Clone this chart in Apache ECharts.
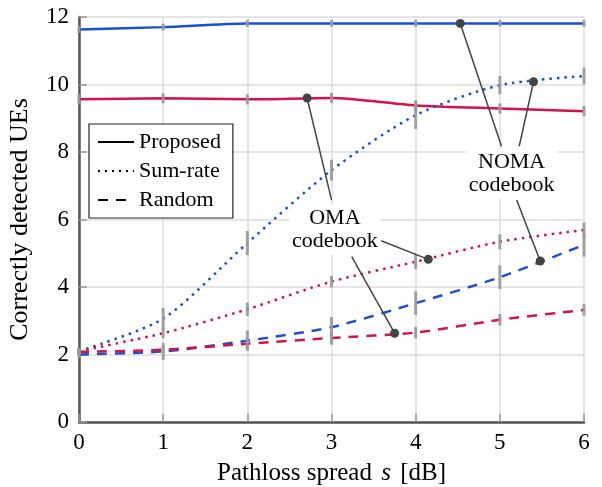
<!DOCTYPE html>
<html><head><meta charset="utf-8">
<script src="https://cdn.jsdelivr.net/npm/echarts@6/dist/echarts.min.js"></script>
<style>html,body{margin:0;padding:0;background:#fff}#c{width:602px;height:487px}</style>
</head><body><div id="c"></div>
<script>
// ---- data ----
var spread = [0, 1, 2, 3, 4, 5, 6];
var proposedNOMA = [11.63, 11.70, 11.81, 11.81, 11.81, 11.81, 11.81];
var proposedOMA  = [9.56, 9.59, 9.56, 9.60, 9.38, 9.29, 9.21];
var sumrateNOMA  = [2.10, 3.06, 5.30, 7.46, 9.09, 9.98, 10.25];
var sumrateOMA   = [2.10, 2.63, 3.34, 4.16, 4.75, 5.34, 5.69];
var randomNOMA   = [2.00, 2.09, 2.41, 2.81, 3.52, 4.29, 5.25];
var randomOMA    = [2.08, 2.14, 2.32, 2.49, 2.65, 3.03, 3.32];
// error bar half-lengths
var errProposedNOMA = [0.10, 0.10, 0.10, 0.10, 0.10, 0.10, 0.10];
var errProposedOMA  = [0.15, 0.15, 0.15, 0.15, 0.15, 0.15, 0.15];
var errSumrateNOMA  = [0.10, 0.32, 0.36, 0.31, 0.41, 0.27, 0.25];
var errSumrateOMA   = [0.10, 0.15, 0.20, 0.17, 0.22, 0.22, 0.22];
var errRandomNOMA   = [0.10, 0.25, 0.30, 0.30, 0.35, 0.35, 0.35];
var errRandomOMA    = [0.10, 0.10, 0.15, 0.20, 0.17, 0.17, 0.17];
var legendNames = ['Proposed', 'Sum-rate', 'Random'];
// annotation leaders: [fromX, fromY, dotX, dotY]
var omaLeaders  = [[3.00, 6.58, 2.71, 9.60], [3.59, 5.37, 4.15, 4.82], [3.24, 4.90, 3.75, 2.63]];
var nomaLeaders = [[5.02, 8.17, 4.53, 11.81], [5.23, 8.17, 5.40, 10.08], [5.20, 6.58, 5.48, 4.77]];
var annotLabels = [[3.04, 5.70, 'OMA\ncodebook'], [5.14, 7.35, 'NOMA\ncodebook']];

var BLUE = '#1a50d6', RED = '#d6124a';
var FONT = 'Liberation Serif';
var DOT = [2.5, 5], DASH = [10, 8];

function pairs(ys) { return spread.map(function (x, i) { return [x, ys[i]]; }); }
function errs(ys, es) { return spread.map(function (x, i) { return [x, ys[i], es[i]]; }); }

function lineSeries(name, ys, color, type) {
  return { name: name, type: 'line', data: pairs(ys), symbol: 'none', smooth: 0.25,
    lineStyle: { color: color, width: 2.5, type: type }, itemStyle: { color: color }, z: 3 };
}
function dummy(name, type) {
  return { name: name, type: 'line', data: [], symbol: 'none', showSymbol: false,
    lineStyle: { color: '#000', width: 2.5, type: type }, itemStyle: { color: '#000', opacity: 0 } };
}

var errData = [].concat(
  errs(proposedNOMA, errProposedNOMA), errs(proposedOMA, errProposedOMA),
  errs(sumrateNOMA, errSumrateNOMA), errs(sumrateOMA, errSumrateOMA),
  errs(randomNOMA, errRandomNOMA), errs(randomOMA, errRandomOMA));

var chart = echarts.init(document.getElementById('c'));
chart.setOption({
  animation: false,
  grid: { left: 79, right: 18, top: 17, bottom: 65, containLabel: false, outerBoundsMode: 'none' },
  xAxis: {
    type: 'value', min: 0, max: 6, interval: 1,
    name: '{a|Pathloss spread }{i|s}{a| [dB]}', nameLocation: 'middle', nameGap: 39,
    nameTextStyle: { rich: { a: { fontFamily: FONT, fontSize: 25, color: '#000' }, i: { fontFamily: FONT, fontSize: 25, fontStyle: 'italic', color: '#000', padding: [0, 3] } } },
    axisLine: { lineStyle: { color: '#555', width: 2.5 } },
    axisTick: { inside: true, length: 8, lineStyle: { color: '#999', width: 1.5 } },
    axisLabel: { fontFamily: FONT, fontSize: 23, color: '#000', margin: 9 },
    splitLine: { show: true, lineStyle: { color: '#ddd', width: 1.5 } }
  },
  yAxis: {
    type: 'value', min: 0, max: 12, interval: 2,
    name: 'Correctly detected UEs', nameLocation: 'middle', nameGap: 46,
    nameTextStyle: { fontFamily: FONT, fontSize: 26, color: '#000' },
    axisLine: { show: true, lineStyle: { color: '#555', width: 2.5 } },
    axisTick: { show: true, inside: true, length: 8, lineStyle: { color: '#999', width: 1.5 } },
    axisLabel: { fontFamily: FONT, fontSize: 23, color: '#000', margin: 10 },
    splitLine: { show: true, lineStyle: { color: '#ddd', width: 1.5 } }
  },
  legend: {
    data: legendNames, orient: 'vertical', left: 89, top: 124,
    backgroundColor: '#fff', borderColor: '#222', borderWidth: 1.2, borderRadius: 0,
    padding: [7, 12, 7, 8], itemWidth: 36, itemHeight: 14, itemGap: 7,
    itemStyle: { opacity: 0 },
    textStyle: { fontFamily: FONT, fontSize: 22, color: '#000' },
    selectedMode: false
  },
  series: [
    lineSeries('Proposed NOMA', proposedNOMA, BLUE, 'solid'),
    lineSeries('Proposed OMA', proposedOMA, RED, 'solid'),
    lineSeries('Sum-rate NOMA', sumrateNOMA, BLUE, DOT),
    lineSeries('Sum-rate OMA', sumrateOMA, RED, DOT),
    lineSeries('Random NOMA', randomNOMA, BLUE, DASH),
    lineSeries('Random OMA', randomOMA, RED, DASH),
    {
      type: 'custom', name: 'err', data: errData, z: 4, silent: true,
      renderItem: function (params, api) {
        var x = api.value(0), y = api.value(1), e = api.value(2);
        var p1 = api.coord([x, y - e]), p2 = api.coord([x, y + e]);
        return { type: 'line', shape: { x1: p1[0], y1: p1[1], x2: p2[0], y2: p2[1] },
          style: { stroke: '#999', lineWidth: 3, opacity: 0.9 } };
      }
    },
    {
      type: 'custom', name: 'leaders', data: omaLeaders.concat(nomaLeaders), z: 5, silent: true,
      renderItem: function (params, api) {
        var a = api.coord([api.value(0), api.value(1)]), b = api.coord([api.value(2), api.value(3)]);
        return { type: 'group', children: [
          { type: 'line', shape: { x1: a[0], y1: a[1], x2: b[0], y2: b[1] }, style: { stroke: '#444', lineWidth: 1.5 } },
          { type: 'circle', shape: { cx: b[0], cy: b[1], r: 4.5 }, style: { fill: '#444' } }
        ] };
      }
    },
    {
      type: 'custom', name: 'labels', data: annotLabels, z: 6, silent: true,
      dimensions: ['x', 'y', 't'],
      encode: { x: 0, y: 1 },
      renderItem: function (params, api) {
        var p = api.coord([api.value(0), api.value(1)]);
        return { type: 'text', x: p[0], y: p[1],
          style: { text: annotLabels[params.dataIndex][2], align: 'center', verticalAlign: 'middle',
            fontFamily: FONT, fontSize: 22, lineHeight: 23, fill: '#000',
            backgroundColor: '#fff', padding: [2, 3] } };
      }
    },
    dummy('Proposed', 'solid'), dummy('Sum-rate', [2, 5]), dummy('Random', [10, 8])
  ]
});
</script></body></html>
